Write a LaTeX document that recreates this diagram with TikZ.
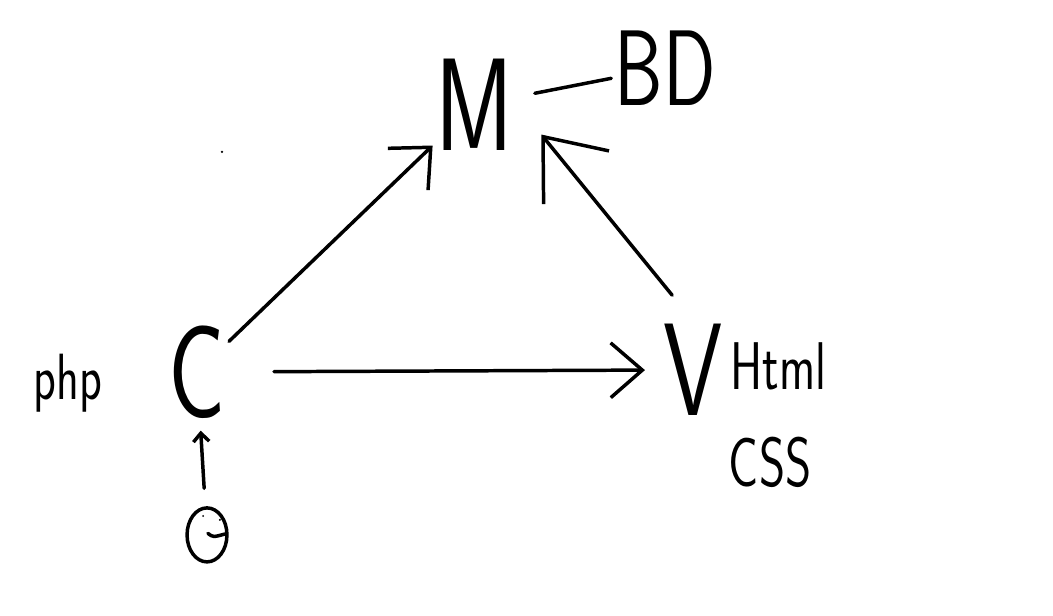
\documentclass[tikz,border=0pt]{standalone}
\usepackage{fontspec}
\usetikzlibrary{arrows.meta,positioning,shapes.geometric}
\newfontfamily\hand{lmsans17-regular.otf}[FakeStretch=0.72]

\begin{document}
\begin{tikzpicture}[
	pen/.style={line width=3.3pt, line cap=round, line join=round},
	hw/.style={font=\hand\fontsize{#1}{#1}\selectfont, inner sep=3pt},
	arr/.style={pen, -{Straight Barb[#1]}}
]
	\useasboundingbox (0,0) rectangle (35.1,20.53);

	\node[hw=125] (M) at (15.83,17.03) {M};
	\node[hw=102] (BD) at (22.17,18.27) {BD};
	\node[hw=125] (C) at (6.57,8.13) {C};
	\node[hw=125] (V) at (23.1,8.2) {V};
	\node[hw=62] (php) at (2.27,7.77) {php};
	\node[hw=64] (html) at (25.95,8.33) {Html};
	\node[hw=66] (css) at (25.67,5.13) {CSS};
	\node[pen, draw, ellipse, minimum width=1.33cm, minimum height=1.8cm] (U) at (6.9,2.7) {};

	% face of the user
	\fill (6.77,3.33) circle (1pt) (7.33,3.2) circle (1pt);
	\draw[pen] (6.93,2.75) .. controls (7.1,2.62) .. (7.5,2.73);
	\fill (7.4,15.47) circle (1.2pt);

	\path[pen, shorten <=0.6cm] (M) edge (BD);
	\path[arr={length=30pt,width=55pt}] (C) edge (M);
	\path[arr={length=30pt,width=52pt}, shorten <=1.5cm, shorten >=0.5cm] (C) edge (V);
	\path[arr={length=50pt,width=80pt}, shorten <=1.1cm, shorten >=1.27cm] (V.north) edge (M.east);
	\path[arr={length=8pt,width=15pt}, shorten <=0.6cm, shorten >=0.3cm] (U) edge (C);

\end{tikzpicture}
\end{document}
